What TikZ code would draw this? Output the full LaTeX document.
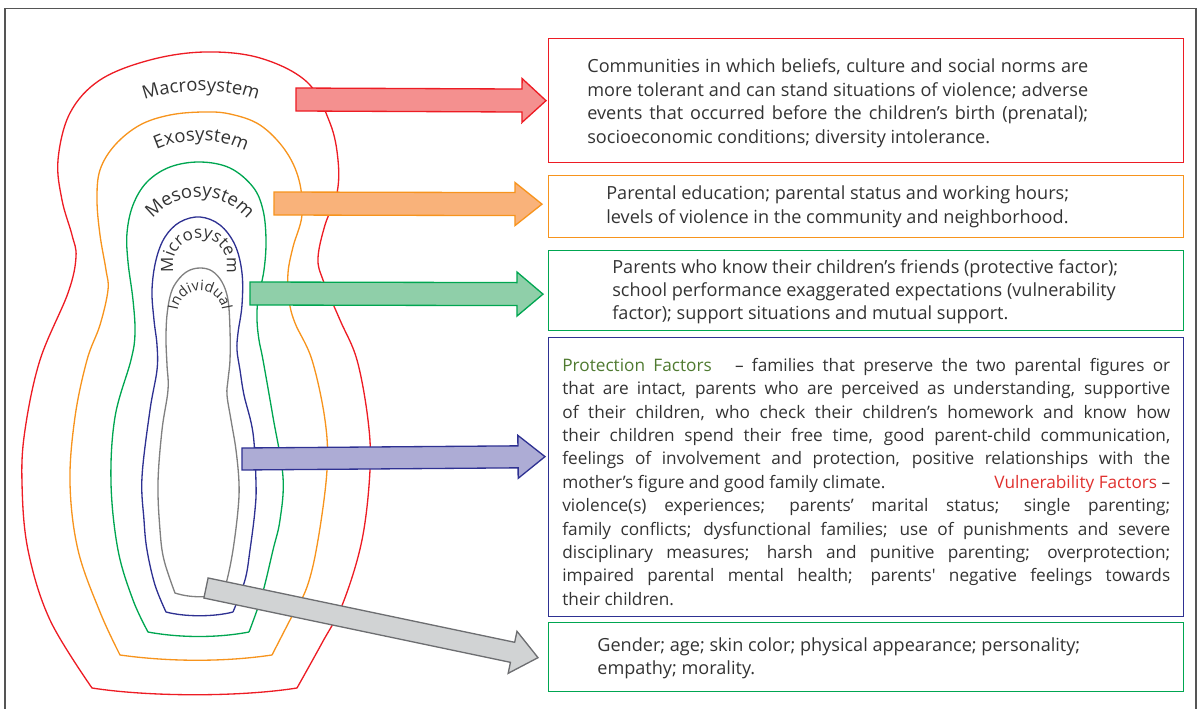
\documentclass[tikz,border=0pt]{standalone}
\usepackage{fontspec}
\setmainfont{Open Sans}
\usetikzlibrary{calc, positioning, decorations.text}

\definecolor{macrored}{HTML}{ED1C24}
\definecolor{macrofill}{HTML}{F4908F}
\definecolor{exoorange}{HTML}{F7941D}
\definecolor{exofill}{HTML}{F9B27A}
\definecolor{mesogreen}{HTML}{00A651}
\definecolor{mesofill}{HTML}{8FCFA9}
\definecolor{microblue}{HTML}{2E3192}
\definecolor{microfill}{HTML}{ADACD5}
\definecolor{indgray}{HTML}{808080}
\definecolor{indfill}{HTML}{D1D3D4}
\definecolor{indstroke}{HTML}{6D6E71}
\definecolor{framegray}{HTML}{555555}
\definecolor{textgray}{HTML}{333333}
\definecolor{protgreen}{HTML}{4F7A30}
\definecolor{vulnred}{HTML}{E0312F}

\tikzstyle{ring} = [line width=0.75pt]
\tikzstyle{factorbox} = [rectangle, line width=0.75pt, minimum width=12.7cm, anchor=north west, inner sep=0pt]
\tikzstyle{factortext} = [inner sep=0pt, text=textgray, font=\fontsize{10.3}{13.6}\selectfont]
\tikzstyle{bigarrow} = [line width=0.75pt, line join=miter]

\newcommand{\ringfont}{\fontsize{10.5}{12}\selectfont}
\newcommand{\microfont}{\fontsize{9.6}{12}\selectfont}
\newcommand{\smallringfont}{\fontsize{8.2}{10}\selectfont}

% block arrow: style, start, tip, shaft half width, head half width, head length
\newcommand{\blockarrow}[6]{%
  \coordinate (#2-base) at ($(#3)!#6!(#2)$);
  \filldraw[bigarrow, #1] ($(#2)!#4!90:(#3)$) -- ($(#2-base)!#4!90:(#3)$)
    -- ($(#2-base)!#5!90:(#3)$) -- (#3) -- ($(#2-base)!#5!-90:(#3)$)
    -- ($(#2-base)!#4!-90:(#3)$) -- ($(#2)!#4!-90:(#3)$) -- cycle;
}

\begin{document}
\begin{tikzpicture}[x=0.02cm, y=-0.02cm]
\useasboundingbox (0,0) rectangle (1197,709);
\draw[framegray, line width=0.8pt] (5,715) -- (5,8.5) -- (1196,8.5) -- (1196,715);

% nested systems
\draw[ring, macrored] plot[smooth, tension=0.6] coordinates {(297,688) (322,643) (343,603) (362,540) (370,470) (368,420) (357,360) (340,320) (323,280) (318,258) (325,225) (337,193) (338,160) (330,123) (307,82) (260,58) (205,52) (150,60) (100,80) (70,113) (58,160) (62,200) (72,235) (76,257) (68,293) (40,360) (25,430) (22,483) (28,550) (50,620) (92,688)} .. controls (150,697) and (240,697) .. (297,688);
\draw[ring, exoorange] plot[smooth, tension=0.6] coordinates {(272,655) (290,620) (307,587) (318,540) (327,470) (325,420) (312,360) (295,323) (289,300) (288,273) (293,247) (302,215) (299,180) (285,150) (260,125) (230,114) (203,112) (170,115) (140,125) (115,145) (100,170) (97,200) (100,235) (106,270) (108,290) (100,325) (87,360) (75,417) (70,483) (78,550) (100,612) (120,655)} .. controls (170,662) and (225,662) .. (272,655);
\draw[ring, mesogreen] plot[smooth, tension=0.6] coordinates {(249,632) (262,595) (273,550) (280,520) (283,477) (273,417) (263,360) (259,340) (257,320) (258,300) (264,270) (266,240) (263,210) (253,187) (230,168) (200,162) (170,167) (147,182) (133,205) (127,233) (128,262) (133,300) (135,333) (131,360) (115,417) (111,483) (118,550) (133,600) (148,632)} .. controls (180,638) and (218,638) .. (249,632);
\draw[ring, microblue] plot[smooth, tension=0.6] coordinates {(233,612) (245,580) (250,550) (255,510) (256,483) (253,433) (244,395) (240,370) (237,350) (238,333) (242,305) (242,273) (235,245) (220,225) (200,217) (180,222) (165,237) (156,260) (152,290) (154,320) (157,345) (157,370) (150,410) (142,477) (144,520) (147,550) (155,585) (166,612)} .. controls (185,617) and (214,617) .. (233,612);
\draw[ring, indgray] plot[smooth, tension=0.6] coordinates {(222,593) (227,580) (233,550) (238,510) (239,483) (236,450) (231,420) (227,395) (228,380) (230,360) (230,330) (228,300) (222,282) (212,271) (200,268) (188,271) (178,280) (171,293) (167,315) (166,340) (167,365) (168,390) (162,430) (158,483) (160,530) (164,560) (175,593)} .. controls (190,598) and (210,598) .. (222,593);

% ring names
\path[decorate, decoration={text along path, text align=center, text color=textgray, text={|\ringfont|Macrosystem}}] (138,103) .. controls (170,87) and (232,87) .. (264,103);
\path[decorate, decoration={text along path, text align=center, text color=textgray, text={|\ringfont|Exosystem}}] (148,154) .. controls (178,136) and (222,136) .. (254,156);
\path[decorate, decoration={text along path, text align=center, text color=textgray, text={|\ringfont|Mesosystem}}] (200,258) ++(205:61) arc[start angle=205, end angle=335, radius=61];
\path[decorate, decoration={text along path, text align=center, text color=textgray, text={|\microfont|Microsystem}}] (200,265) ++(145:27) arc[start angle=145, end angle=395, radius=27];
\path[decorate, decoration={text along path, text align=center, text color=textgray, text={|\smallringfont|Individual}}] (200,313) ++(150:22.5) arc[start angle=150, end angle=390, radius=22.5];

% factor boxes
\node (macrobox) [factorbox, draw=macrored, minimum height=2.48cm] at (548,38) {};
\node (exobox) [factorbox, draw=exoorange, minimum height=1.24cm] at (548,175) {};
\node (mesobox) [factorbox, draw=mesogreen, minimum height=1.6cm] at (548,250) {};
\node (microbox) [factorbox, draw=microblue, minimum height=5.58cm] at (548,337) {};
\node (indbox) [factorbox, draw=mesogreen, minimum height=1.38cm] at (548,622) {};

\node (macrotext) [factortext, text width=10.02cm, align=justify, below right=0.4cm and 0.78cm of macrobox.north west]
  {Communities in which beliefs, culture and social norms are\linebreak
   more tolerant and can stand situations of violence; adverse\linebreak
   events that occurred before the children’s birth (prenatal);\linebreak
   socioeconomic conditions; diversity intolerance.};
\node (exotext) [factortext, align=left, below right=0.21cm and 1.16cm of exobox.north west]
  {Parental education; parental status and working hours;\\
   levels of violence in the community and neighborhood.};
\node (mesotext) [factortext, font=\fontsize{10.3}{13.1}\selectfont, align=left, below right=0.19cm and 1.28cm of mesobox.north west]
  {Parents who know their children’s friends (protective factor);\\
   school performance exaggerated expectations (vulnerability\\
   factor); support situations and mutual support.};
\node (microtext) [factortext, font=\fontsize{9.8}{13.3}\selectfont, text width=12.16cm, align=justify, below right=0.42cm and 0.28cm of microbox.north west]
  {{\color{protgreen}Protection Factors}\hspace{0.3cm} -- families that preserve the two parental figures or\linebreak
   that are intact, parents who are perceived as understanding, supportive\linebreak
   of their children, who check their children’s homework and know how\linebreak
   their children spend their free time, good parent-child communication,\linebreak
   feelings of involvement and protection, positive relationships with the\linebreak
   mother’s figure and good family climate.\hfill{\color{vulnred}Vulnerability Factors} --\linebreak
   violence(s) experiences; parents’ marital status; single parenting;\linebreak
   family conflicts; dysfunctional families; use of punishments and severe\linebreak
   disciplinary measures; harsh and punitive parenting; overprotection;\linebreak
   impaired parental mental health; parents\textquotesingle\ negative feelings towards\linebreak
   their children.};
\node (indtext) [factortext, font=\fontsize{10.3}{13.1}\selectfont, align=left, below right=0.31cm and 0.98cm of indbox.north west]
  {Gender; age; skin color; physical appearance; personality;\\
   empathy; morality.};

% arrows from the rings to the boxes
\coordinate (macrostart) at (296,99.5);
\coordinate (macrotip) at ($(macrobox.west)+(-2,0)$);
\coordinate (exostart) at (274,203.5);
\coordinate (exotip) at ($(exobox.west)+(-6,-2.5)$);
\coordinate (mesostart) at (250,293.5);
\coordinate (mesotip) at ($(mesobox.west)+(-5,3.5)$);
\coordinate (microstart) at (242,459);
\coordinate (microtip) at ($(microbox.west)+(-3,-20.5)$);
\coordinate (indstart) at (206,588);
\coordinate (indtip) at ($(indbox.west)+(-10,0.5)$);

\blockarrow{fill=macrofill, draw=macrored}{macrostart}{macrotip}{0.23cm}{0.44cm}{0.48cm}
\blockarrow{fill=exofill, draw=exoorange}{exostart}{exotip}{0.23cm}{0.43cm}{0.54cm}
\blockarrow{fill=mesofill, draw=mesogreen}{mesostart}{mesotip}{0.23cm}{0.44cm}{0.52cm}
\blockarrow{fill=microfill, draw=microblue}{microstart}{microtip}{0.22cm}{0.43cm}{0.54cm}
\blockarrow{fill=indfill, draw=indstroke}{indstart}{indtip}{0.205cm}{0.43cm}{0.52cm}

\end{tikzpicture}
\end{document}
